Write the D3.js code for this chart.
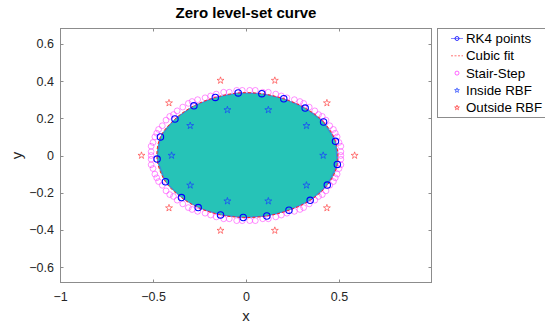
<!DOCTYPE html>
<html>
<head>
<meta charset="utf-8">
<script src="https://cdn.jsdelivr.net/npm/d3@7"></script>
<style>
  html, body { margin: 0; padding: 0; background: #fff; }
  svg { display: block; font-family: "Liberation Sans", Arial, Helvetica, sans-serif; }
</style>
</head>
<body>
<svg id="chart" width="545" height="329"></svg>
<script>
// RK4 traced points on the zero level set
const rk4X = [0.481, 0.417, 0.318, 0.203, 0.085, -0.042, -0.165, -0.280, -0.382, -0.460, -0.478,
              -0.433, -0.347, -0.257, -0.137, -0.015, 0.112, 0.231, 0.345, 0.437, 0.491];
const rk4Y = [0.076, 0.180, 0.255, 0.305, 0.332, 0.336, 0.312, 0.267, 0.196, 0.100, -0.019,
              -0.141, -0.226, -0.280, -0.319, -0.333, -0.325, -0.294, -0.241, -0.159, -0.048];

// Stair-step (grid) boundary points
const stairX = [0.51, 0.51, 0.51, 0.50, 0.49, 0.48, 0.47, 0.45, 0.43, 0.41, 0.39, 0.37, 0.34, 0.31, 0.29,
                0.26, 0.22, 0.19, 0.16, 0.12, 0.09, 0.05, 0.02,
                -0.02, -0.05, -0.09, -0.12, -0.16, -0.19, -0.22, -0.26, -0.29, -0.31, -0.34, -0.37, -0.39,
                -0.41, -0.43, -0.45, -0.47, -0.48, -0.49, -0.50, -0.51, -0.51,
                -0.51, -0.51, -0.51, -0.50, -0.49, -0.48, -0.47, -0.45, -0.43, -0.41, -0.39, -0.37, -0.34,
                -0.31, -0.29, -0.26, -0.22, -0.19, -0.16, -0.12, -0.09, -0.05, -0.02,
                0.02, 0.05, 0.09, 0.12, 0.16, 0.19, 0.22, 0.26, 0.29, 0.31, 0.34, 0.37, 0.39,
                0.41, 0.43, 0.45, 0.47, 0.48, 0.49, 0.50, 0.51, 0.51];
const stairY = [0.00, 0.02, 0.05, 0.07, 0.10, 0.12, 0.14, 0.16, 0.19, 0.21, 0.22, 0.24, 0.26, 0.28, 0.29,
                0.30, 0.31, 0.32, 0.33, 0.34, 0.34, 0.35, 0.35,
                0.35, 0.35, 0.34, 0.34, 0.33, 0.32, 0.31, 0.30, 0.29, 0.28, 0.26, 0.24, 0.22,
                0.21, 0.19, 0.16, 0.14, 0.12, 0.10, 0.07, 0.05, 0.02,
                0.00, -0.02, -0.05, -0.07, -0.10, -0.12, -0.14, -0.16, -0.19, -0.21, -0.22, -0.24, -0.26,
                -0.28, -0.29, -0.30, -0.31, -0.32, -0.33, -0.34, -0.34, -0.35, -0.35,
                -0.35, -0.35, -0.34, -0.34, -0.33, -0.32, -0.31, -0.30, -0.29, -0.28, -0.26, -0.24, -0.22,
                -0.21, -0.19, -0.16, -0.14, -0.12, -0.10, -0.07, -0.05, -0.02];

// RBF centres inside and outside the curve
const insideX = [0.415, 0.325, 0.120, -0.100, -0.300, -0.400, -0.300, -0.100, 0.120, 0.325];
const insideY = [0.000, 0.160, 0.245, 0.245, 0.160, 0.000, -0.160, -0.245, -0.245, -0.160];
const outsideX = [0.584, 0.435, 0.155, -0.137, -0.414, -0.562, -0.414, -0.137, 0.155, 0.435];
const outsideY = [0.000, 0.282, 0.403, 0.403, 0.282, 0.000, -0.282, -0.403, -0.403, -0.282];

const xTicks = [-1, -0.5, 0, 0.5];
const yTicks = [-0.6, -0.4, -0.2, 0, 0.2, 0.4, 0.6];
const legendLabels = ["RK4 points", "Cubic fit", "Stair-Step", "Inside RBF", "Outside RBF"];

const svg = d3.select("#chart");
const box = { left: 60, right: 432, top: 28, bottom: 283 };

const x = d3.scaleLinear().domain([-1, 1]).range([box.left, box.right]);
const y = d3.scaleLinear().domain([-0.685, 0.685]).range([box.bottom, box.top]);

const pts = (xs, ys) => xs.map((v, i) => [v, ys[i]]);
const rk4 = pts(rk4X, rk4Y);
const stair = pts(stairX, stairY);
const inside = pts(insideX, insideY);
const outside = pts(outsideX, outsideY);

const axisColor = "#262626";
const gridGray = "#8c8c8c";
const teal = "rgb(22,190,177)";

// plot area clip
svg.append("defs").append("clipPath").attr("id", "plotclip")
  .append("rect").attr("x", box.left).attr("y", box.top)
  .attr("width", box.right - box.left).attr("height", box.bottom - box.top);

const plot = svg.append("g").attr("clip-path", "url(#plotclip)");

// stair-step markers
plot.append("g").selectAll("circle").data(stair).join("circle")
  .attr("cx", d => x(d[0])).attr("cy", d => y(d[1])).attr("r", 2.9)
  .attr("fill", "none").attr("stroke", "#ff33ff").attr("stroke-width", 0.55);

// filled region enclosed by the fitted curve
const smooth = d3.line().x(d => x(d[0])).y(d => y(d[1])).curve(d3.curveCatmullRomClosed.alpha(0.5));
plot.append("path").attr("d", smooth(rk4)).attr("fill", teal).attr("fill-opacity", 0.93).attr("stroke", "none");

// RK4 polyline
const poly = d3.line().x(d => x(d[0])).y(d => y(d[1])).curve(d3.curveLinearClosed);
plot.append("path").attr("d", poly(rk4)).attr("fill", "none")
  .attr("stroke", "#5050ff").attr("stroke-width", 0.6);

// cubic fit
plot.append("path").attr("d", smooth(rk4)).attr("fill", "none")
  .attr("stroke", "#ff2020").attr("stroke-width", 1).attr("stroke-dasharray", "3,2");

// RK4 markers
plot.append("g").selectAll("circle").data(rk4).join("circle")
  .attr("cx", d => x(d[0])).attr("cy", d => y(d[1])).attr("r", 3.2)
  .attr("fill", "none").attr("stroke", "#0000ff").attr("stroke-width", 1.1);

// RBF centres
const star = d3.symbol().type(d3.symbolStar).size(15);
plot.append("g").selectAll("path").data(inside).join("path")
  .attr("d", star).attr("transform", d => `translate(${x(d[0])},${y(d[1])})`)
  .attr("fill", "none").attr("stroke", "#1a3cff").attr("stroke-width", 0.7);
plot.append("g").selectAll("path").data(outside).join("path")
  .attr("d", star).attr("transform", d => `translate(${x(d[0])},${y(d[1])})`)
  .attr("fill", "none").attr("stroke", "#ff3030").attr("stroke-width", 0.6);

// axes (box with inward ticks on all sides)
const tickLen = 3.5;
const axes = svg.append("g");
axes.append("rect").attr("x", box.left + 0.5).attr("y", box.top + 0.5)
  .attr("width", box.right - box.left - 1).attr("height", box.bottom - box.top - 1)
  .attr("fill", "none").attr("stroke", gridGray).attr("stroke-width", 1);

const bottomAxis = d3.axisBottom(x).tickValues(xTicks).tickSize(0).tickPadding(9)
  .tickFormat(d3.format("~g"));
const gx = axes.append("g").attr("transform", `translate(0,${box.bottom})`).call(bottomAxis);
gx.select(".domain").remove();
gx.selectAll("text").attr("font-size", 12.5).attr("fill", axisColor).attr("font-family", null);

const leftAxis = d3.axisLeft(y).tickValues(yTicks).tickSize(0).tickPadding(6)
  .tickFormat(d3.format("~g"));
const gy = axes.append("g").attr("transform", `translate(${box.left},0)`).call(leftAxis);
gy.select(".domain").remove();
gy.selectAll("text").attr("font-size", 12.5).attr("fill", axisColor).attr("font-family", null);

// inward tick marks
xTicks.forEach(t => {
  const px = Math.round(x(t)) + 0.5;
  axes.append("line").attr("x1", px).attr("x2", px).attr("y1", box.bottom).attr("y2", box.bottom - tickLen)
    .attr("stroke", gridGray);
  axes.append("line").attr("x1", px).attr("x2", px).attr("y1", box.top).attr("y2", box.top + tickLen)
    .attr("stroke", gridGray);
});
yTicks.forEach(t => {
  const py = Math.round(y(t)) + 0.5;
  axes.append("line").attr("x1", box.left).attr("x2", box.left + tickLen).attr("y1", py).attr("y2", py)
    .attr("stroke", gridGray);
  axes.append("line").attr("x1", box.right).attr("x2", box.right - tickLen).attr("y1", py).attr("y2", py)
    .attr("stroke", gridGray);
});

// labels and title
svg.append("text").attr("x", (box.left + box.right) / 2).attr("y", 321)
  .attr("text-anchor", "middle").attr("font-size", 15).attr("fill", axisColor).text("x");
svg.append("text").attr("transform", `translate(22,${(box.top + box.bottom) / 2}) rotate(-90)`)
  .attr("text-anchor", "middle").attr("font-size", 15).attr("fill", axisColor).text("y");
svg.append("text").attr("x", (box.left + box.right) / 2).attr("y", 18)
  .attr("text-anchor", "middle").attr("font-size", 15).attr("font-weight", "bold")
  .attr("fill", "#000").text("Zero level-set curve");

// legend
const lg = svg.append("g");
lg.append("rect").attr("x", 437.5).attr("y", 28.5).attr("width", 120).attr("height", 89)
  .attr("fill", "#fff").attr("stroke", gridGray).attr("stroke-width", 1);
const rowY = i => 38.5 + i * 17.3;
const sx0 = 451, sx1 = 463, sxm = 457;
legendLabels.forEach((lab, i) => {
  lg.append("text").attr("x", 466).attr("y", rowY(i)).attr("dy", "0.35em")
    .attr("font-size", 13.3).attr("fill", "#000").text(lab);
});
lg.append("line").attr("x1", sx0).attr("x2", sx1).attr("y1", rowY(0)).attr("y2", rowY(0))
  .attr("stroke", "#5050ff").attr("stroke-width", 0.7);
lg.append("circle").attr("cx", sxm).attr("cy", rowY(0)).attr("r", 2).attr("fill", "none")
  .attr("stroke", "#0000ff").attr("stroke-width", 0.8);
lg.append("line").attr("x1", sx0).attr("x2", sx1).attr("y1", rowY(1)).attr("y2", rowY(1))
  .attr("stroke", "#ff5050").attr("stroke-width", 0.8).attr("stroke-dasharray", "2,1.5");
lg.append("circle").attr("cx", sxm).attr("cy", rowY(2)).attr("r", 2).attr("fill", "none")
  .attr("stroke", "#ff00ff").attr("stroke-width", 0.6);
const smallStar = d3.symbol().type(d3.symbolStar).size(7);
lg.append("path").attr("d", smallStar).attr("transform", `translate(${sxm},${rowY(3)})`)
  .attr("fill", "none").attr("stroke", "#1a3cff").attr("stroke-width", 0.7);
lg.append("path").attr("d", smallStar).attr("transform", `translate(${sxm},${rowY(4)})`)
  .attr("fill", "none").attr("stroke", "#ff3030").attr("stroke-width", 0.7);
</script>
</body>
</html>
